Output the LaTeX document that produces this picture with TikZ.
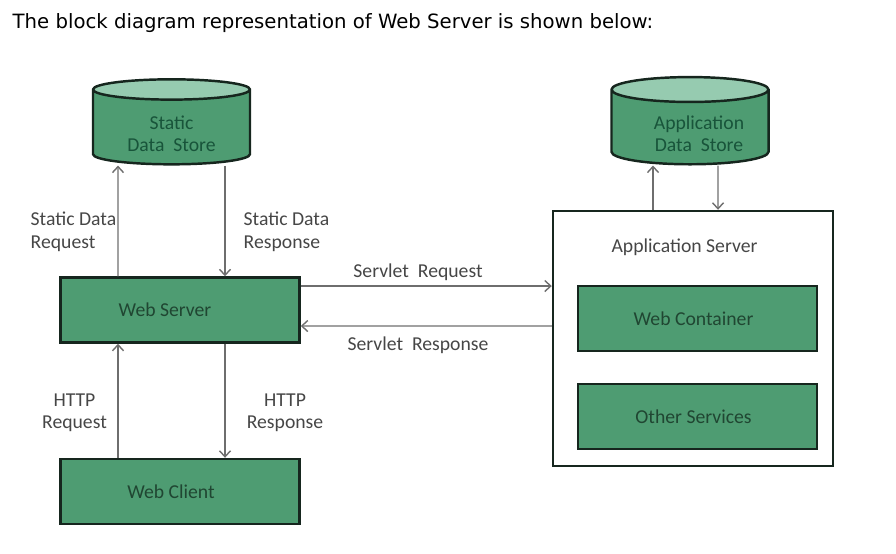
\documentclass[tikz,border=0pt]{standalone}
\usepackage{fontspec}
\setmainfont{Carlito}
\newfontfamily\titlefont{DejaVu Sans}
\usetikzlibrary{arrows.meta,positioning,shapes.geometric}
\definecolor{blockgreen}{RGB}{78,156,114}
\definecolor{lidgreen}{RGB}{150,203,176}
\definecolor{edgedark}{RGB}{22,38,30}
\definecolor{labgray}{RGB}{70,70,70}
\definecolor{arrgray}{RGB}{110,110,110}
\definecolor{blocktext}{RGB}{32,70,50}
\definecolor{storetext}{RGB}{24,84,58}
\tikzset{
  block/.style={rectangle, draw=edgedark, line width=0.7pt, fill=blockgreen, inner sep=0pt,
    minimum width=2.39cm, minimum height=0.65cm, font=\fontsize{5.6}{6.4}\selectfont, text=blocktext},
  store/.style={cylinder, shape border rotate=90, aspect=0.23, draw=edgedark, line width=0.7pt,
    cylinder uses custom fill, cylinder body fill=blockgreen, cylinder end fill=lidgreen, inner sep=0pt,
    minimum width=1.57cm, minimum height=0.85cm, align=center,
    font=\fontsize{5.6}{6.4}\selectfont, text=storetext},
  outer/.style={rectangle, draw=edgedark, line width=0.7pt, fill=white, minimum width=2.80cm, minimum height=2.55cm},
  lab/.style={font=\fontsize{5.6}{6.4}\selectfont, text=labgray, inner sep=0pt},
  barr/.style={-{Straight Barb[length=0.6mm,width=1.1mm]}, arrgray, line width=0.4pt},
}
\begin{document}
\begin{tikzpicture}[x=1cm,y=1cm]
\useasboundingbox (0,0) rectangle (8.96,5.53);
\node[anchor=west, inner sep=0pt, font=\fontsize{5.6}{6.5}\titlefont] (intro) at (0.12,5.30) {The block diagram representation of Web Server is shown below:};
% left column
\node[store] (staticstore) at (1.715,4.255) {{}\\[1pt]Static\\Data\ \ Store};
\node[block] (webserver) at (1.80,2.43) {\hspace*{-0.3cm}Web Server};
\node[block] (webclient) at (1.80,0.615) {\hspace*{-0.18cm}Web Client};
% right column
\node[store] (appstore) at (6.90,4.255) {{}\\[1pt]\hspace*{0.18cm}Application\\\hspace*{0.18cm}Data\ \ Store};
\node[outer] (appserver) at (6.93,2.145) {};
\node[lab] (applab) at (6.845,3.06) {Application Server};
\node[block] (webcontainer) at (6.975,2.345) {\hspace*{-0.08cm}Web Container};
\node[block] (otherservices) at (6.975,1.365) {\hspace*{-0.08cm}Other Services};
% connectors
\draw[barr] ([xshift=-0.62cm]webserver.north) -- ([xshift=-0.535cm]staticstore.south);
\draw[barr] ([xshift=0.535cm]staticstore.south) -- ([xshift=0.45cm]webserver.north);
\draw[barr] ([xshift=-0.62cm]webclient.north) -- ([xshift=-0.62cm]webserver.south);
\draw[barr] ([xshift=0.45cm]webserver.south) -- ([xshift=0.45cm]webclient.north);
\draw[barr] ([yshift=0.24cm]webserver.east) -- ([yshift=0.525cm]appserver.west);
\draw[barr] ([yshift=0.125cm]appserver.west) -- ([yshift=-0.16cm]webserver.east);
\draw[barr] ([xshift=-0.40cm]appserver.north) -- ([xshift=-0.37cm]appstore.south);
\draw[barr] ([xshift=0.28cm]appstore.south) -- ([xshift=0.25cm]appserver.north);
% labels
\node[lab, align=left, anchor=west] (sdreq) at (0.30,3.21) {Static Data\\Request};
\node[lab, align=left, anchor=west] (sdres) at (2.43,3.21) {Static Data\\Response};
\node[lab, align=center] (httpreq) at (0.745,1.40) {HTTP\\Request};
\node[lab, align=center] (httpres) at (2.85,1.40) {HTTP\\Response};
\node[lab] (svreq) at (4.18,2.81) {Servlet\ \ Request};
\node[lab] (svres) at (4.18,2.08) {Servlet\ \ Response};
\end{tikzpicture}
\end{document}
